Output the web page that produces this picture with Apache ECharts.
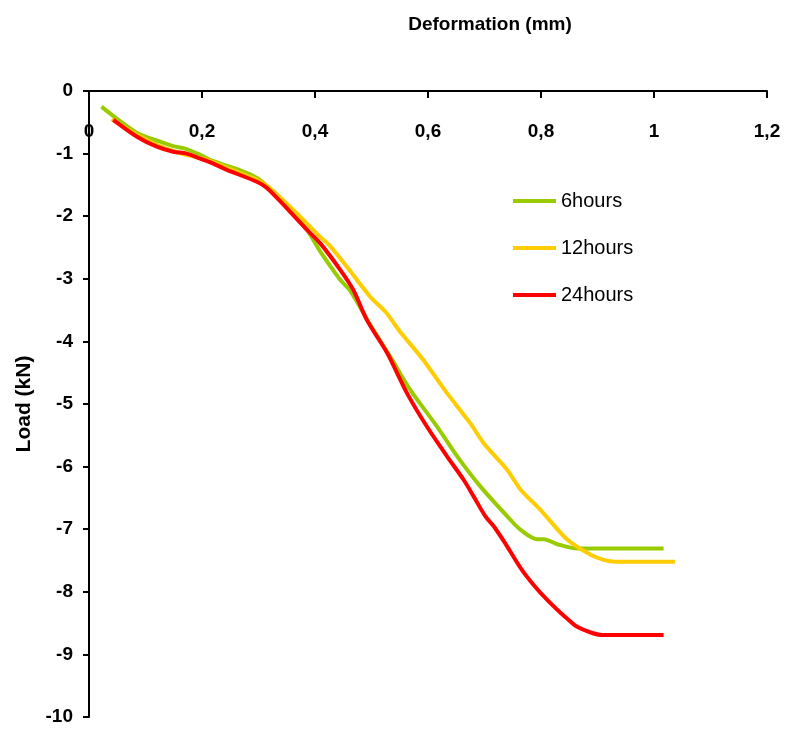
<!DOCTYPE html>
<html>
<head>
<meta charset="utf-8">
<script src="https://cdn.jsdelivr.net/npm/echarts@6/dist/echarts.min.js"></script>
<style>
  html, body { margin: 0; padding: 0; background: #fff; }
  #chart { width: 788px; height: 736px; }
</style>
</head>
<body>
<div id="chart"></div>
<script>
// values
var seriesNames = ['6hours', '12hours', '24hours'];

var deform6 = [0.022, 0.085, 0.126, 0.149, 0.170, 0.197, 0.214, 0.256, 0.291, 0.309, 0.356, 0.386, 0.409, 0.418,
  0.445, 0.463, 0.498, 0.533, 0.569, 0.616, 0.652, 0.693, 0.746, 0.764, 0.793, 0.805, 0.829, 0.864, 1.017];
var load6 = [-0.25, -0.67, -0.81, -0.88, -0.92, -1.02, -1.10, -1.23, -1.36, -1.47, -1.90, -2.22, -2.56, -2.68,
  -3.02, -3.20, -3.74, -4.24, -4.78, -5.36, -5.84, -6.32, -6.85, -7.01, -7.16, -7.16, -7.24, -7.31, -7.31];

var deform12 = [0.040, 0.085, 0.120, 0.160, 0.197, 0.220, 0.256, 0.297, 0.320, 0.374, 0.409, 0.424, 0.454, 0.498,
  0.525, 0.551, 0.592, 0.634, 0.675, 0.699, 0.740, 0.764, 0.799, 0.847, 0.888, 0.911, 0.932, 1.037];
var load12 = [-0.45, -0.70, -0.86, -0.99, -1.07, -1.14, -1.27, -1.42, -1.55, -2.01, -2.33, -2.45, -2.78, -3.29,
  -3.53, -3.85, -4.30, -4.83, -5.31, -5.63, -6.05, -6.37, -6.69, -7.17, -7.41, -7.49, -7.52, -7.52];

var deform24 = [0.043, 0.085, 0.120, 0.149, 0.173, 0.197, 0.220, 0.244, 0.297, 0.315, 0.356, 0.386, 0.409, 0.445,
  0.468, 0.492, 0.528, 0.563, 0.598, 0.634, 0.663, 0.681, 0.702, 0.717, 0.737, 0.764, 0.787, 0.811, 0.835,
  0.849, 0.864, 0.888, 0.908, 1.017];
var load24 = [-0.46, -0.73, -0.89, -0.97, -1.00, -1.08, -1.16, -1.26, -1.45, -1.55, -1.93, -2.22, -2.43, -2.86,
  -3.18, -3.66, -4.19, -4.83, -5.36, -5.84, -6.21, -6.48, -6.80, -6.96, -7.23, -7.62, -7.89, -8.13, -8.34,
  -8.45, -8.56, -8.65, -8.69, -8.69];

var colors = ['#99CC00', '#FFCC00', '#FF0000'];

function pairs(xs, ys) {
  var out = [];
  for (var i = 0; i < xs.length; ++i) {
    out.push([xs[i], ys[i]]);
  }
  return out;
}

var narrow = '"Liberation Sans Narrow", "Arial Narrow", "Liberation Sans", sans-serif';

var myChart = echarts.init(document.getElementById('chart'));
var option = {
  animation: false,
  color: colors,
  title: {
    text: 'Deformation (mm)',
    left: 485,
    top: 10,
    textAlign: 'center',
    textStyle: { fontFamily: narrow, fontSize: 19, fontWeight: 'bold', color: '#000' }
  },
  legend: {
    orient: 'vertical',
    left: 508,
    top: 186,
    itemWidth: 43,
    itemHeight: 4,
    itemGap: 27,
    icon: 'rect',
    data: seriesNames,
    textStyle: { fontFamily: narrow, fontSize: 20, color: '#000' }
  },
  grid: { left: 89, top: 91, right: 21, bottom: 19, containLabel: false },
  xAxis: {
    type: 'value',
    position: 'top',
    min: 0,
    max: 1.2,
    interval: 0.2,
    splitLine: { show: false },
    axisLine: { onZero: false, lineStyle: { color: '#000', width: 2 } },
    axisTick: { inside: true, length: 7, lineStyle: { color: '#000', width: 2 } },
    axisLabel: {
      inside: true,
      margin: 31,
      color: '#000',
      fontFamily: narrow,
      fontSize: 19,
      fontWeight: 'bold',
      formatter: function(v) {
        return String(Math.round(v * 10) / 10).replace('.', ',');
      }
    }
  },
  yAxis: {
    type: 'value',
    min: -10,
    max: 0,
    interval: 1,
    name: 'Load (kN)',
    nameLocation: 'middle',
    nameGap: 54,
    nameTextStyle: { fontFamily: '"Liberation Sans", Arial, sans-serif', fontSize: 21, fontWeight: 'bold', color: '#000' },
    splitLine: { show: false },
    axisLine: { onZero: false, lineStyle: { color: '#000', width: 2 } },
    axisTick: { length: 6, lineStyle: { color: '#000', width: 2 } },
    axisLabel: {
      margin: 16,
      color: '#000',
      fontFamily: narrow,
      fontSize: 19,
      fontWeight: 'bold'
    }
  },
  series: [
    { name: seriesNames[0], type: 'line', data: pairs(deform6, load6), showSymbol: false, smooth: 0.3, lineStyle: { width: 4 } },
    { name: seriesNames[1], type: 'line', data: pairs(deform12, load12), showSymbol: false, smooth: 0.3, lineStyle: { width: 4 } },
    { name: seriesNames[2], type: 'line', data: pairs(deform24, load24), showSymbol: false, smooth: 0.3, lineStyle: { width: 4 } }
  ]
};
myChart.setOption(option);
</script>
</body>
</html>
